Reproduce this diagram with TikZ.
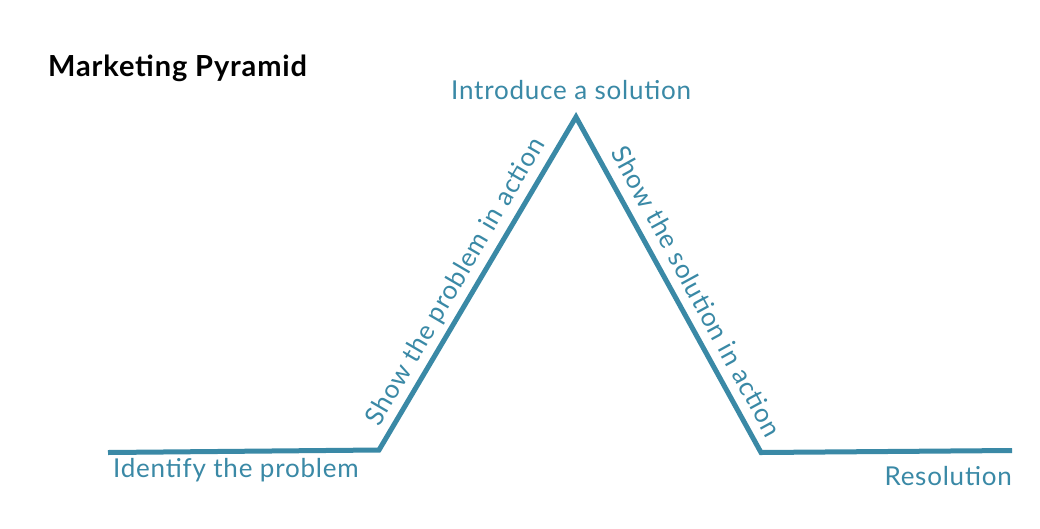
\documentclass[tikz,border=0pt]{standalone}
\usepackage{fontspec}
\setmainfont{Lato}
\newfontfamily\lblfont[LetterSpace=3]{Lato}
\newfontfamily\ttlfont[LetterSpace=3]{Lato}
\usetikzlibrary{calc}
\definecolor{pyr}{HTML}{3A89A6}
\begin{document}
\begin{tikzpicture}[x=1pt,y=-1pt,
  lbl/.style={text=pyr, font=\lblfont\fontsize{26}{31}\selectfont, inner sep=0pt},
  ttl/.style={text=black, font=\ttlfont\bfseries\fontsize{29}{35}\selectfont, inner sep=0pt},
  edge/.style={draw=pyr, line width=5pt, line join=miter}]
\useasboundingbox (0,0) rectangle (1040,528);
\fill[white] (0,0) rectangle (1040,528);
\coordinate (a) at (108,452.5);
\coordinate (b) at (379,450);
\coordinate (c) at (576,117);
\coordinate (d) at (761,452.5);
\coordinate (e) at (1012,450.5);
\draw[edge] (a) -- (b) -- (c) -- (d) -- (e);
\coordinate (m1) at ($(b)!0.475!(c)$);
\coordinate (m2) at ($(c)!0.55!(d)$);
\node[ttl, anchor=base west] (title) at (48,76) {Marketing Pyramid};
\node[lbl, anchor=base west] (intro) at (451,99) {Introduce a solution};
\node[lbl, anchor=base west] (ident) at (113,477) {Identify the problem};
\node[lbl, anchor=base east] (resol) at (1012,485) {Resolution};
\node[lbl, anchor=base, rotate=59.6] (showp) at ($(m1)!12pt!90:(c)$) {Show the problem in action};
\node[lbl, anchor=base, rotate=-61.4] (shows) at ($(m2)!12pt!90:(d)$) {Show the solution in action};
\end{tikzpicture}
\end{document}
